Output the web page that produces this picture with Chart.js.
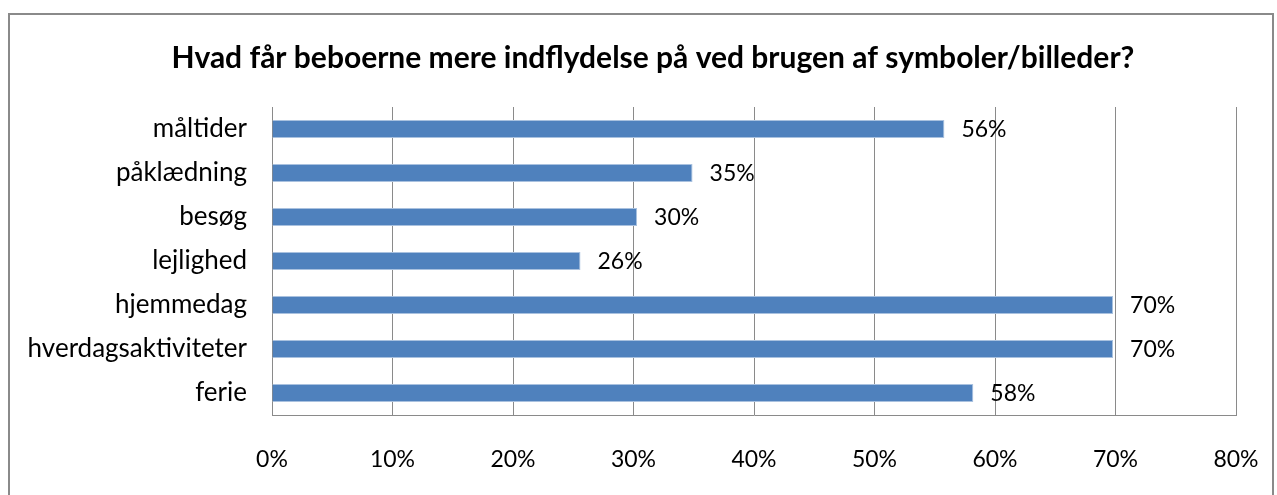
<!DOCTYPE html>
<html>
<head>
<meta charset="utf-8">
<script src="https://cdn.jsdelivr.net/npm/chart.js@4.4.1/dist/chart.umd.min.js"></script>
<style>
  html, body { margin: 0; padding: 0; background: #fff; }
  #wrap { position: relative; width: 1277px; height: 495px; overflow: hidden; }
  #frame { position: absolute; left: 8px; top: 13px; width: 1266px; height: 520px; border: 2px solid #8a8a8a; box-sizing: border-box; }
  canvas { position: absolute; left: 0; top: 0; }
</style>
</head>
<body>
<div id="wrap">
  <div id="frame"></div>
  <canvas id="c" width="1277" height="495"></canvas>
</div>
<script>
const titleText = 'Hvad får beboerne mere indflydelse på ved brugen af symboler/billeder?';
const categories = ['måltider', 'påklædning', 'besøg', 'lejlighed', 'hjemmedag', 'hverdagsaktiviteter', 'ferie'];
const values = [55.8, 34.9, 30.3, 25.6, 69.8, 69.8, 58.2];
const valueLabels = ['56%', '35%', '30%', '26%', '70%', '70%', '58%'];
const xTicks = [0, 10, 20, 30, 40, 50, 60, 70, 80];

const FONT = 'Lato, "Open Sans", sans-serif';

// title sits a bit right of centre, like the original
const chartTitle = {
  id: 'chartTitle',
  afterDraw(chart) {
    const ctx = chart.ctx;
    ctx.save();
    ctx.font = 'bold 30px ' + FONT;
    ctx.fillStyle = '#000';
    ctx.textAlign = 'center';
    ctx.textBaseline = 'middle';
    ctx.fillText(titleText, 653, 58);
    ctx.restore();
  }
};

// labels next to each bar
const barLabels = {
  id: 'barLabels',
  afterDatasetsDraw(chart) {
    const ctx = chart.ctx;
    const meta = chart.getDatasetMeta(0);
    ctx.save();
    ctx.font = '23px ' + FONT;
    ctx.fillStyle = '#000';
    ctx.textAlign = 'left';
    ctx.textBaseline = 'middle';
    meta.data.forEach((bar, i) => {
      ctx.fillText(valueLabels[i], bar.x + 17, bar.y + 1);
    });
    ctx.restore();
  }
};

new Chart(document.getElementById('c'), {
  type: 'bar',
  data: {
    labels: categories,
    datasets: [{
      data: values,
      backgroundColor: '#4f81bd',
      borderColor: '#a9c1df',
      borderWidth: 1,
      borderSkipped: 'left',
      categoryPercentage: 1,
      barPercentage: 0.41
    }]
  },
  options: {
    indexAxis: 'y',
    responsive: false,
    animation: false,
    layout: { padding: { left: 0, right: 41, top: 107, bottom: 0 } },
    plugins: {
      legend: { display: false },
      tooltip: { enabled: false },
      title: { display: false }
    },
    scales: {
      x: {
        min: 0, max: 80,
        afterBuildTicks: s => { s.ticks = xTicks.map(v => ({ value: v })); },
        afterFit: s => { s.height = 80; s.paddingLeft = 0; s.paddingRight = 0; },
        grid: { color: '#8a8a8a', lineWidth: 1, drawTicks: false },
        border: { color: '#8a8a8a', width: 1 },
        ticks: {
          padding: 31,
          color: '#000',
          font: { family: FONT, size: 23 },
          callback: v => v + '%'
        }
      },
      y: {
        afterFit: s => { s.width = 272; s.paddingTop = 0; s.paddingBottom = 0; },
        grid: { display: false, drawTicks: false },
        border: { color: '#8a8a8a', width: 1 },
        ticks: {
          padding: 25,
          color: '#000',
          font: { family: FONT, size: 26 }
        }
      }
    }
  },
  plugins: [barLabels, chartTitle]
});
</script>
</body>
</html>
